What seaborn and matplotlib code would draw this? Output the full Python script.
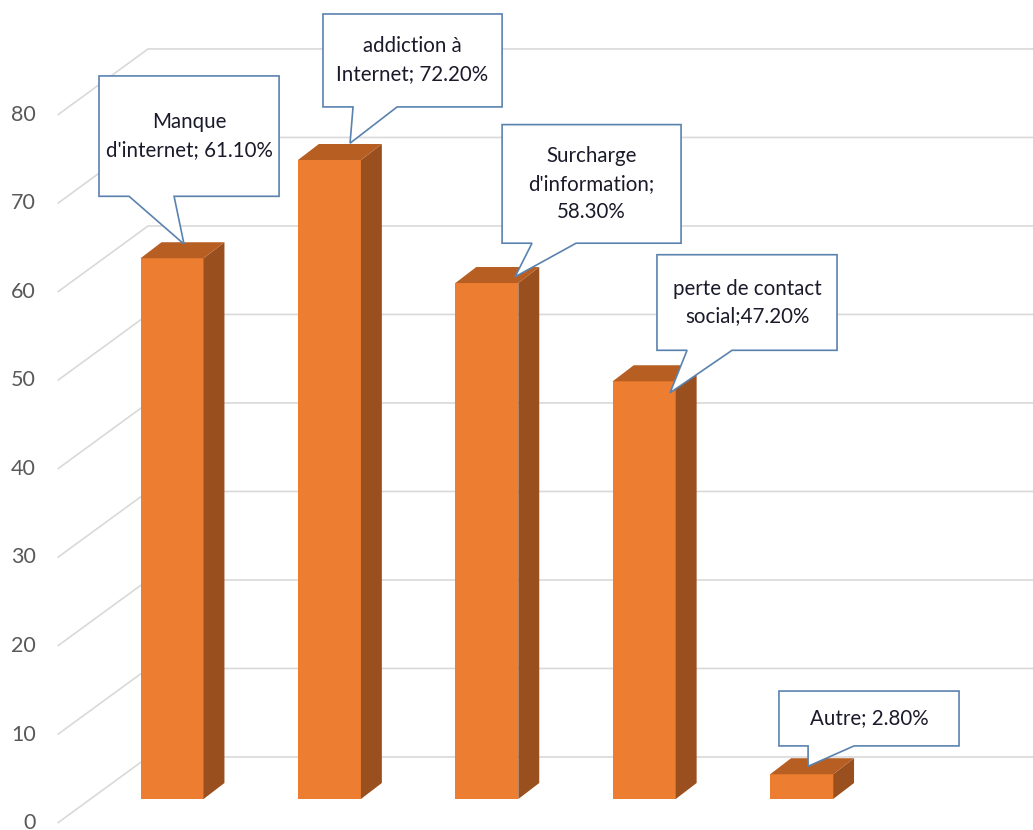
import matplotlib
matplotlib.use("Agg")
import matplotlib.pyplot as plt
from matplotlib.patches import Polygon
import seaborn as sns

# ---- data ----
categories = ["Manque d'internet", "addiction à Internet", "Surcharge d'information",
              "perte de contact social", "Autre"]
values = [61.1, 72.2, 58.3, 47.2, 2.8]
label_prefixes = ["Manque\nd'internet; ", "addiction à\nInternet; ",
                  "Surcharge\nd'information;\n", "perte de contact\nsocial;", "Autre; "]
tick_values = [0, 10, 20, 30, 40, 50, 60, 70, 80]

# ---- layout (positions / styles) ----
# callout: box left/right relative to bar center, box top/bottom in value units,
# pointer base (rel x), tip (rel x, dy from bar value)
callouts = [
    (-0.464, 0.680, 81.7, 68.1, -0.273, 0.013, 0.076, 1.6),
    (-0.041, 1.097, 88.7, 78.2, 0.150, 0.430, 0.131, 1.9),
    (0.097, 1.234, 76.2, 62.8, 0.287, 0.567, 0.179, 0.7),
    (0.081, 1.225, 61.5, 50.7, 0.272, 0.558, 0.164, -1.3),
    (-0.144, 1.000, 12.2, 6.0, 0.041, 0.333, 0.041, 0.9),
]
FRONT_C, SIDE_C, TOP_C = "#ED7D31", "#9A4F1E", "#B75E22"
GRID_C = "#D9D9D9"
DX, DY = 0.133, 1.81          # bar depth offset
WALL_XF, WALL_XB = -0.727, -0.1525
WALL_YF, WALL_YB = -2.71, 4.75
XLIM = (-1.093, 5.470)
YLIM = (-3.50, 90.28)

sns.set_theme(style="white")
plt.rcParams["font.family"] = ["Lato", "DejaVu Sans"]

fig = plt.figure(figsize=(10.33, 8.30), dpi=100)
ax = fig.add_axes([0, 0, 1, 1])

sns.barplot(x=categories, y=values, color=FRONT_C, saturation=1, width=0.4,
            errorbar=None, linewidth=0, ax=ax, zorder=3)

# 3D faces derived from the bar patches
for p in list(ax.patches):
    x0, w, y0, h = p.get_x(), p.get_width(), p.get_y(), p.get_height()
    side = Polygon([(x0 + w, y0), (x0 + w + DX, y0 + DY), (x0 + w + DX, y0 + h + DY),
                    (x0 + w, y0 + h)], closed=True, facecolor=SIDE_C, edgecolor="none", zorder=3)
    top = Polygon([(x0, y0 + h), (x0 + w, y0 + h), (x0 + w + DX, y0 + h + DY),
                   (x0 + DX, y0 + h + DY)], closed=True, facecolor=TOP_C, edgecolor="none", zorder=3)
    ax.add_patch(side)
    ax.add_patch(top)

# walls / gridlines
for t in tick_values:
    ax.plot([WALL_XF, WALL_XB, XLIM[1]], [t + WALL_YF, t + WALL_YB, t + WALL_YB],
            color=GRID_C, lw=1.2, zorder=1, solid_capstyle="butt")
    ax.text(-0.864, t + WALL_YF, str(t), ha="right", va="center",
            fontsize=15.5, color="#595959", zorder=2)

# callouts
for i, (v, pre, c) in enumerate(zip(values, label_prefixes, callouts)):
    L, R, T, B, p1, p2, tx, tdy = c
    verts = [(i + L, T), (i + R, T), (i + R, B), (i + p2, B), (i + tx, v + tdy),
             (i + p1, B), (i + L, B)]
    ax.add_patch(Polygon(verts, closed=True, facecolor="white", edgecolor="#5A82AF",
                         lw=1.2, zorder=5, joinstyle="miter"))
    ax.text(i + (L + R) / 2, (T + B) / 2, f"{pre}{v:.2f}%", ha="center", va="center",
            fontsize=14.8, color="#1A1A2A", linespacing=1.5, zorder=6)

ax.set_xlim(*XLIM)
ax.set_ylim(*YLIM)
ax.axis("off")

fig.savefig("out.png", dpi=100)
